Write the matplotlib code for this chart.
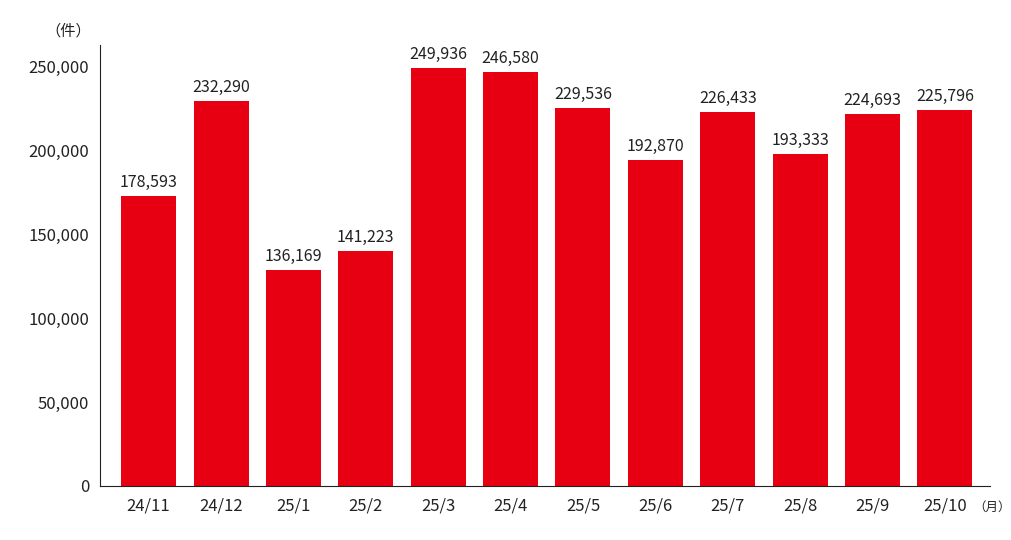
import matplotlib.pyplot as plt

plt.rcParams['font.family'] = ['Noto Sans CJK JP', 'DejaVu Sans']

months = ["24/11", "24/12", "25/1", "25/2", "25/3", "25/4",
          "25/5", "25/6", "25/7", "25/8", "25/9", "25/10"]
# bar heights as drawn in the reference
heights = [173000, 229700, 128900, 140200, 249400, 247000,
           225500, 194500, 223200, 198100, 222000, 224400]
# value labels as printed above the bars
labels = ["178,593", "232,290", "136,169", "141,223", "249,936", "246,580",
          "229,536", "192,870", "226,433", "193,333", "224,693", "225,796"]

fig = plt.figure(figsize=(10.12, 5.4), dpi=100)
ax = fig.add_axes([0.099, 0.1, 0.879, 0.817])

x = range(len(months))
ax.bar(x, heights, width=0.76, color="#E60012")
for i, (h, lab) in enumerate(zip(heights, labels)):
    ax.text(i, h + 3000, lab, ha="center", va="bottom", fontsize=11.5, color="#222222")

ax.set_xlim(-0.67, 11.62)
ax.set_ylim(0, 263000)
ax.set_xticks(list(x))
ax.set_xticklabels(months, fontsize=12)
ax.set_yticks(range(0, 250001, 50000))
ax.set_yticklabels([f"{v:,}" for v in range(0, 250001, 50000)], fontsize=12)
ax.tick_params(length=0, pad=8, colors="#222222")
ax.spines["top"].set_visible(False)
ax.spines["right"].set_visible(False)
ax.spines["left"].set_color("#222222")
ax.spines["bottom"].set_color("#222222")

fig.text(0.045, 0.935, "（件）", fontsize=11, color="#222222")
fig.text(0.962, 0.055, "（月）", fontsize=9, color="#222222")

fig.savefig("out.png")
